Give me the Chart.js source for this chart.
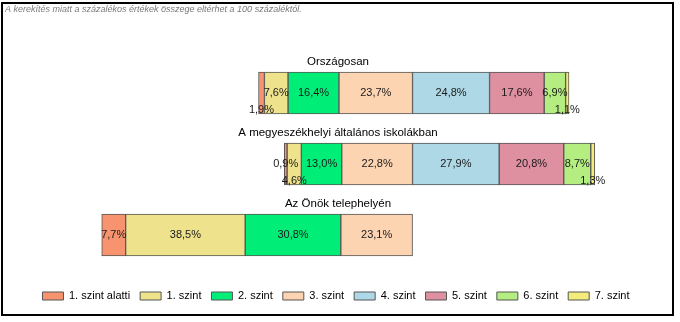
<!DOCTYPE html>
<html>
<head>
<meta charset="utf-8">
<script src="https://cdn.jsdelivr.net/npm/chart.js@4/dist/chart.umd.min.js"></script>
<style>
html,body{margin:0;padding:0;background:#fff;}
canvas{display:block;}
</style>
</head>
<body>
<canvas id="c" width="680" height="322"></canvas>
<script>
// ---- data ----
const categories = ['Országosan', 'A megyeszékhelyi általános iskolákban', 'Az Önök telephelyén'];
const levelNames = ['1. szint alatti', '1. szint', '2. szint', '3. szint', '4. szint', '5. szint', '6. szint', '7. szint'];
const szintAlatti = [1.9, 0.9, 7.7];
const szint1 = [7.6, 4.6, 38.5];
const szint2 = [16.4, 13.0, 30.8];
const szint3 = [23.7, 22.8, 23.1];
const szint4 = [24.8, 27.9, 0];
const szint5 = [17.6, 20.8, 0];
const szint6 = [6.9, 8.7, 0];
const szint7 = [1.1, 1.3, 0];
const noteText = 'A kerekítés miatt a százalékos értékek összege eltérhet a 100 százaléktól.';

const colors = ['#F7946F', '#EEE38C', '#00EE78', '#FDD4B2', '#AED8E6', '#DE8FA0', '#B4EE80', '#F4EC7A'];
const allSeries = [szintAlatti, szint1, szint2, szint3, szint4, szint5, szint6, szint7];
const negCount = 4; // levels below the split go to the left

// build floating segments: levels 0..3 extend left from zero, 4..7 right
function buildRanges() {
  const out = allSeries.map(() => []);
  for (let c = 0; c < categories.length; c++) {
    let pos = 0;
    for (let s = negCount - 1; s >= 0; s--) {
      const v = allSeries[s][c];
      out[s][c] = v ? [pos - v, pos] : null;
      pos -= v;
    }
    pos = 0;
    for (let s = negCount; s < allSeries.length; s++) {
      const v = allSeries[s][c];
      out[s][c] = v ? [pos, pos + v] : null;
      pos += v;
    }
  }
  return out;
}
const ranges = buildRanges();

const datasets = levelNames.map((name, i) => ({
  label: name,
  data: ranges[i],
  raw: allSeries[i],
  backgroundColor: colors[i],
  borderColor: '#555555',
  borderWidth: 1,
  borderSkipped: false,
  barThickness: 42,
  grouped: false
}));

const fmt = v => v.toFixed(1).replace('.', ',') + '%';

const framePlugin = {
  id: 'frame',
  beforeDraw(chart) {
    const ctx = chart.ctx;
    ctx.save();
    ctx.fillStyle = '#fff';
    ctx.fillRect(0, 0, chart.width, chart.height);
    ctx.strokeStyle = '#000';
    ctx.lineWidth = 2;
    ctx.strokeRect(2, 3, 671, 312);
    ctx.font = 'italic 9px Arial, "Liberation Sans"';
    ctx.fillStyle = '#7a7a7a';
    ctx.textBaseline = 'alphabetic';
    ctx.textAlign = 'left';
    ctx.fillText(noteText, 5, 12);
    ctx.restore();
  }
};

const labelPlugin = {
  id: 'segLabels',
  afterDatasetsDraw(chart) {
    const ctx = chart.ctx;
    ctx.save();
    ctx.font = '11px Arial, "Liberation Sans"';
    ctx.fillStyle = '#1a1a1a';
    ctx.textAlign = 'center';
    ctx.textBaseline = 'middle';
    for (let c = 0; c < categories.length; c++) {
      const meta0 = chart.getDatasetMeta(0);
      const barY = meta0.data[c].y;
      ctx.save();
      ctx.font = '11.5px Arial, "Liberation Sans"';
      ctx.fillStyle = '#000';
      ctx.fillText(categories[c], 338, barY - 31);
      ctx.restore();
      const segs = [];
      chart.data.datasets.forEach((ds, i) => {
        const v = ds.raw[c];
        if (!v) return;
        const el = chart.getDatasetMeta(i).data[c];
        const text = fmt(v);
        const w = ctx.measureText(text).width;
        segs.push({ v, x: (el.x + el.base) / 2, y: el.y, text, w });
      });
      const placed = [];
      segs.slice().sort((a, b) => b.v - a.v).forEach(s => {
        const l = s.x - s.w / 2, r = s.x + s.w / 2;
        const clash = placed.some(p => l < p.r && r > p.l);
        let y = s.y;
        if (clash) { y = s.y + 17; } else { placed.push({ l, r }); }
        ctx.fillText(s.text, s.x, y);
      });
    }
    ctx.restore();
  }
};

new Chart(document.getElementById('c'), {
  type: 'bar',
  data: { labels: categories, datasets },
  plugins: [framePlugin, labelPlugin],
  options: {
    indexAxis: 'y',
    responsive: false,
    animation: false,
    devicePixelRatio: 1,
    layout: { padding: { left: 12, right: 20, top: 57.5, bottom: 10.5 } },
    scales: {
      x: { display: false, min: -129.0, max: 79.7, grid: { display: false } },
      y: { display: false, grid: { display: false } }
    },
    plugins: {
      tooltip: { enabled: false },
      legend: {
        display: true,
        position: 'bottom',
        title: { display: true, text: ' ', font: { size: 5 }, padding: 2 },
        labels: {
          boxWidth: 21,
          boxHeight: 8,
          padding: 10,
          color: '#000',
          font: { family: 'Arial, "Liberation Sans"', size: 11 }
        }
      }
    }
  }
});
</script>
</body>
</html>
